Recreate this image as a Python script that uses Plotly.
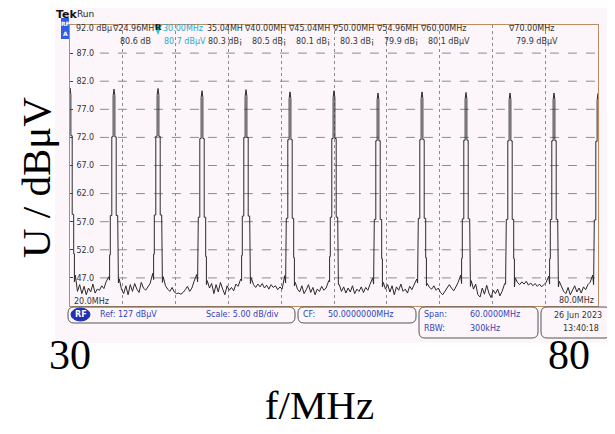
import plotly.graph_objects as go

W, H = 615, 434


def px(x):
    return x / W


def py(y):
    return 1 - y / H


# ---------------- data ----------------
freq_start, freq_stop = 20.0, 80.0
level_bottom, level_top = 42.0, 92.0

peak_freqs = [20, 25, 30, 35, 40, 45, 50, 55, 60, 65, 70, 75, 80]
peak_levels = [80.8, 80.6, 80.7, 80.3, 80.5, 80.1, 80.3, 79.9, 80.1, 80.0, 79.9, 79.9, 79.8]

# staircase shape of one carrier (offset in MHz, level relative to peak in dB)
profile_offsets = [-0.50, -0.50, -0.42, -0.42, -0.25, -0.25, -0.10, -0.10, 0.0,
                   0.10, 0.10, 0.25, 0.25, 0.42, 0.42, 0.50, 0.50]
profile_drops = [-34.0, -29.5, -29.5, -22.5, -22.5, -8.5, -8.5, -1.2, 0.0,
                 -1.2, -8.5, -8.5, -22.5, -22.5, -29.5, -29.5, -34.5]

# noise floor between neighbouring carriers (offset from the left carrier, MHz)
noise_offsets = [0.6, 0.85, 1.1, 1.35, 1.6, 1.85, 2.1, 2.35, 2.6, 2.85, 3.1, 3.35, 3.6, 3.85, 4.1, 4.4]
noise_gap_20_25 = [47.5, 44.6, 45.8, 44.2, 45.5, 44.0, 45.2, 44.5, 45.9, 44.3, 45.0, 44.8, 45.6, 45.1, 46.3, 47.2]
noise_gap_25_30 = [46.8, 45.0, 44.2, 45.6, 44.0, 45.8, 44.6, 46.0, 45.0, 44.4, 46.2, 45.2, 44.8, 45.5, 46.0, 47.8]
noise_gap_30_35 = [47.2, 45.6, 45.0, 44.6, 45.3, 44.5, 44.2, 44.3, 44.1, 44.4, 44.9, 45.5, 44.6, 45.2, 46.4, 47.6]
noise_gap_35_40 = [46.5, 45.2, 46.0, 44.2, 45.8, 44.5, 46.2, 45.0, 44.0, 45.6, 44.8, 45.3, 44.7, 45.9, 45.5, 46.8]
noise_gap_40_45 = [47.0, 45.8, 45.3, 45.9, 45.4, 46.0, 45.2, 45.7, 45.0, 45.8, 45.3, 45.6, 44.9, 45.4, 45.0, 47.4]
noise_gap_45_50 = [46.2, 45.0, 44.5, 45.6, 44.2, 44.9, 45.8, 44.4, 45.3, 44.0, 45.0, 44.6, 45.5, 44.8, 45.2, 46.5]
noise_gap_50_55 = [45.8, 44.6, 45.4, 44.3, 45.2, 44.5, 45.6, 44.2, 45.0, 44.6, 45.4, 44.4, 45.3, 44.8, 45.9, 47.0]
noise_gap_55_60 = [46.2, 45.0, 45.8, 44.5, 45.6, 44.0, 45.4, 44.8, 45.9, 44.6, 45.0, 44.3, 45.5, 44.9, 45.7, 46.8]
noise_gap_60_65 = [46.0, 45.3, 45.0, 45.6, 44.8, 45.2, 44.4, 44.0, 44.6, 45.1, 45.8, 45.2, 44.7, 45.4, 46.2, 47.5]
noise_gap_65_70 = [46.5, 45.0, 45.9, 44.0, 43.6, 45.2, 44.1, 45.7, 44.3, 43.5, 44.8, 44.2, 45.0, 43.8, 44.6, 46.0]
noise_gap_70_75 = [47.0, 46.2, 45.8, 46.3, 45.9, 46.4, 45.7, 46.1, 45.6, 46.0, 45.5, 45.9, 45.4, 45.8, 46.2, 47.3]
noise_gap_75_80 = [46.4, 45.5, 44.6, 44.2, 45.3, 44.0, 44.8, 45.6, 44.5, 45.2, 44.3, 45.4, 44.9, 45.8, 46.2, 47.5]
noise_gaps = [noise_gap_20_25, noise_gap_25_30, noise_gap_30_35, noise_gap_35_40,
              noise_gap_40_45, noise_gap_45_50, noise_gap_50_55, noise_gap_55_60,
              noise_gap_60_65, noise_gap_65_70, noise_gap_70_75, noise_gap_75_80]

# marker read-outs shown on the analyzer screen
marker_freqs = [24.96, 30.00, 35.04, 40.00, 45.04, 50.00, 54.96, 60.00, 70.00]
marker_units = ["MH", "MHz", "MH", "MH", "MH", "MH", "MH", "MHz", "MHz"]
marker_values = [80.6, 80.7, 80.3, 80.5, 80.1, 80.3, 79.9, 80.1, 79.9]
marker_value_units = ["dB", "dBμV", "dB¡", "dB¡", "dB¡", "dB¡", "dB¡", "dBμV", "dBμV"]
marker_symbols = ["∇", "", "", "∇", "∇", "∇", "∇", "∇", "∇"]
reference_marker = 30.00

ytick_vals = [47, 52, 57, 62, 67, 72, 77, 82, 87]
xgrid_vals = [26, 32, 38, 44, 50, 56, 62, 68, 74]

outer_ticks = [30, 80]
outer_tick_text = ["30", "80"]

# ---------------- trace ----------------
xs, ys = [], []
for i, (c, h) in enumerate(zip(peak_freqs, peak_levels)):
    for o, d in zip(profile_offsets, profile_drops):
        xs.append(c + o)
        ys.append(h + d)
    if i < len(noise_gaps):
        for o, v in zip(noise_offsets, noise_gaps[i]):
            xs.append(c + o)
            ys.append(v)

fig = go.Figure()
fig.add_trace(go.Scatter(x=xs, y=ys, mode="lines",
                         line=dict(color="#2a2a2a", width=1),
                         hoverinfo="skip", showlegend=False))
fig.add_trace(go.Scatter(x=outer_ticks, y=[None, None], xaxis="x2", yaxis="y2",
                         mode="lines", hoverinfo="skip", showlegend=False))

SCREEN_BG = "#fcf6fb"
BORDER = "#b98d62"
GRID = "#8c8c8c"
BLUE = "#3343b8"
TXT = "#333333"
SF = "DejaVu Sans"
FS = 8

shapes = []
annotations = []

# screenshot background
shapes.append(dict(type="rect", xref="paper", yref="paper", x0=px(47), x1=px(602),
                   y0=py(335), y1=py(0), fillcolor=SCREEN_BG, line=dict(width=0), layer="below"))

# horizontal graticule lines
for v in ytick_vals:
    shapes.append(dict(type="line", xref="x", yref="y", x0=23.4, x1=freq_stop, y0=v, y1=v,
                       line=dict(color=GRID, width=1, dash="dash"), layer="below"))


def rrect(x0, y0, x1, y1, r, color, width=1):
    pts = (f"M{px(x0 + r)},{py(y0)} L{px(x1 - r)},{py(y0)} Q{px(x1)},{py(y0)} {px(x1)},{py(y0 + r)} "
           f"L{px(x1)},{py(y1 - r)} Q{px(x1)},{py(y1)} {px(x1 - r)},{py(y1)} "
           f"L{px(x0 + r)},{py(y1)} Q{px(x0)},{py(y1)} {px(x0)},{py(y1 - r)} "
           f"L{px(x0)},{py(y0 + r)} Q{px(x0)},{py(y0)} {px(x0 + r)},{py(y0)} Z")
    return dict(type="path", xref="paper", yref="paper", path=pts,
                line=dict(color=color, width=width), fillcolor="rgba(0,0,0,0)")


# info bar boxes
shapes.append(rrect(60, 299, 287, 315, 6, "#555555"))
shapes.append(rrect(290, 299, 408, 315, 6, "#555555"))
shapes.append(rrect(411, 299, 530, 330, 6, "#555555"))
shapes.append(rrect(533, 299, 603, 330, 6, "#555555"))
# RF badge
shapes.append(dict(type="circle", xref="paper", yref="paper", x0=px(63), x1=px(82),
                   y0=py(313), y1=py(300), fillcolor="#1f2fb8", line=dict(color="#1f2fb8", width=1)))
# RF/A channel box at the top-left
shapes.append(dict(type="rect", xref="paper", yref="paper", x0=px(53), x1=px(61),
                   y0=py(31), y1=py(10), fillcolor="#2f5fe0", line=dict(width=0)))
# reference marker triangle
shapes.append(dict(type="path", xref="x", yref="paper",
                   path=f"M{reference_marker - 0.45},{py(17)} L{reference_marker + 0.45},{py(17)} L{reference_marker},{py(27)} Z",
                   fillcolor="#27c3d8", line=dict(width=0)))


def ann(text, x, y, size=FS, color=TXT, xanchor="left", xref="paper", family=SF, bold=False, **kw):
    if bold:
        text = f"<b>{text}</b>"
    annotations.append(dict(text=text, x=x, y=py(y), xref=xref, yref="paper", xanchor=xanchor,
                            yanchor="middle", showarrow=False,
                            font=dict(family=family, size=size, color=color), **kw))


# header
ann("Tek", px(46), 6, size=11, color="#111", bold=True)
ann("Run", px(67), 6, size=9, color="#222")
ann("RF", px(57), 15, size=6, color="white", xanchor="center", bold=True)
ann("A", px(57), 25, size=6, color="white", xanchor="center", bold=True)
ann("92.0 dBμ", px(66), 21)

for f, u, v, vu, s in zip(marker_freqs, marker_units, marker_values, marker_value_units, marker_symbols):
    is_ref = f == reference_marker
    col = "#2ba8c8" if is_ref else TXT
    label = f"{f:.2f}{u}"
    if s:
        annotations.append(dict(text=f"{s}{label}", x=f, y=py(21), xref="x", yref="paper",
                                xanchor="left", xshift=-4, yanchor="middle", showarrow=False,
                                font=dict(family=SF, size=FS, color=col)))
    else:
        annotations.append(dict(text=label, x=f, y=py(21), xref="x", yref="paper",
                                xanchor="left", xshift=3, yanchor="middle", showarrow=False,
                                font=dict(family=SF, size=FS, color=col)))
    annotations.append(dict(text=f"{v:.1f} {vu}", x=f, y=py(33.5), xref="x", yref="paper",
                            xanchor="left", xshift=4, yanchor="middle", showarrow=False,
                            font=dict(family=SF, size=FS, color=col)))

annotations.append(dict(text="<b>R</b>", x=reference_marker, y=py(19), xref="x", yref="paper",
                        xanchor="center", yanchor="middle", showarrow=False,
                        font=dict(family="Liberation Serif", size=9, color="#111")))

# bottom of graticule
ann(f"{freq_start:.1f}MHz", px(64), 293)
ann(f"{freq_stop:.1f}MHz", px(588), 292, xanchor="right")

# info bar
ann("RF", px(72.5), 306.5, size=8, color="white", xanchor="center", bold=True)
ann("Ref: 127 dBμV", px(90), 306.5, color=BLUE)
ann("Scale: 5.00 dB/div", px(196), 306.5, color=BLUE)
ann("CF:", px(293), 306.5, color=BLUE)
ann("50.0000000MHz", px(318), 306.5, color=BLUE)
ann("Span:", px(414), 306.5, color=BLUE)
ann("60.0000MHz", px(460), 306.5, color=BLUE)
ann("RBW:", px(414), 320, color=BLUE)
ann("300kHz", px(460), 320, color=BLUE)
ann("26 Jun 2023", px(544), 307, color=TXT)
ann("13:40:18", px(553), 320.5, color=TXT)

# y axis title of the figure
annotations.append(dict(text="U / dBμV", x=px(28), y=py(170), xref="paper", yref="paper",
                        xanchor="center", yanchor="middle", textangle=-90, showarrow=False,
                        font=dict(family="Liberation Serif", size=41, color="black")))

fig.update_layout(
    width=W, height=H,
    margin=dict(l=0, r=0, t=0, b=0, autoexpand=False),
    paper_bgcolor="white",
    plot_bgcolor="rgba(0,0,0,0)",
    showlegend=False,
    shapes=shapes,
    annotations=annotations,
    xaxis=dict(domain=[px(62), px(590)], range=[freq_start, freq_stop],
               tickvals=xgrid_vals, showticklabels=False, ticks="",
               showgrid=True, gridcolor=GRID, griddash="dot", gridwidth=1,
               showline=True, linecolor=BORDER, linewidth=1, mirror=True, zeroline=False,
               anchor="y", automargin=False),
    yaxis=dict(domain=[py(298), py(17)], range=[level_bottom, level_top],
               tickvals=ytick_vals, ticktext=[f"{v:.1f}" for v in ytick_vals],
               ticks="inside", ticklen=3, tickcolor="#444", ticklabelposition="inside",
               ticklabelstandoff=2,
               tickfont=dict(family=SF, size=FS, color=TXT),
               showgrid=False, showline=True, linecolor=BORDER, linewidth=1, mirror=True,
               zeroline=False, anchor="x", automargin=False),
    xaxis2=dict(domain=[px(62), px(561)], range=[30, 80], tickvals=outer_ticks,
                ticktext=outer_tick_text, ticks="", showline=False, showgrid=False,
                zeroline=False, anchor="free", position=py(318), automargin=False,
                tickfont=dict(family="Liberation Serif", size=42, color="black"),
                title=dict(text="f/MHz", standoff=13,
                           font=dict(family="Liberation Serif", size=41, color="black"))),
    yaxis2=dict(domain=[py(318), py(300)], range=[0, 1], visible=False, anchor="x2",
                automargin=False),
)

fig.write_html("out.html")
